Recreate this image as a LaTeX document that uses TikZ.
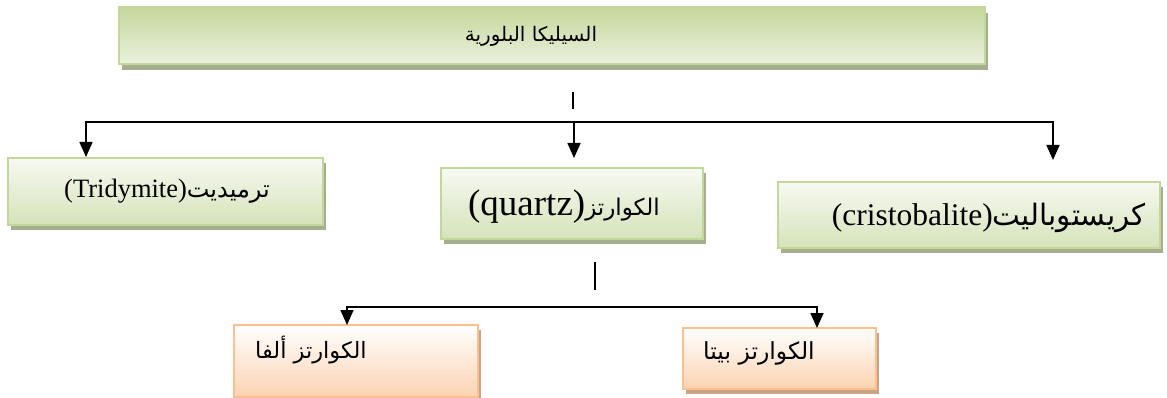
\documentclass[tikz,border=0pt]{standalone}
\usepackage{fontspec}
\setmainfont{Liberation Serif}
\newfontfamily\arabicfont[Script=Arabic]{DejaVu Sans}
\TeXXeTstate=1
\usetikzlibrary{arrows.meta,shadows}
\definecolor{greenEdge}{HTML}{C3D69B}
\definecolor{greenDark}{HTML}{C4D79B}
\definecolor{greenLight}{HTML}{EBF1DE}
\definecolor{greenLow}{HTML}{D5E3BA}
\definecolor{greenShadow}{HTML}{A5AE8D}
\definecolor{orangeEdge}{HTML}{FAC090}
\definecolor{orangeLow}{HTML}{FCD3B2}
\definecolor{orangeShadow}{HTML}{C9A386}
\newcommand{\ar}[1]{{\arabicfont\beginR #1\endR}}
\newcommand{\fs}[1]{\fontsize{#1}{#1}\selectfont}
\tikzset{
  box/.style={draw, line width=1.4pt, inner sep=0pt, outer sep=0pt},
  greenbox/.style={box, draw=greenEdge, top color=white!60!greenLight, bottom color=greenLow,
    general shadow={shadow xshift=3pt, shadow yshift=-5pt, fill=greenShadow}},
  titlebox/.style={box, draw=greenEdge, top color=greenDark, bottom color=greenLight,
    general shadow={shadow xshift=3pt, shadow yshift=-6pt, fill=greenShadow}},
  orangebox/.style={box, draw=orangeEdge, top color=white, bottom color=orangeLow,
    general shadow={shadow xshift=3pt, shadow yshift=-5pt, fill=orangeShadow}},
  label/.style={inner sep=0pt, text=black},
  wire/.style={line width=1.6pt, black},
  arrowwire/.style={wire, -{Triangle[width=13pt,length=15pt]}},
  twoarrows/.style={wire, {Triangle[width=13pt,length=15pt]}-{Triangle[width=13pt,length=15pt]}},
}
\begin{document}
\begin{tikzpicture}[x=1pt, y=-1pt]
\useasboundingbox (0,0) rectangle (1167,398);

% boxes
\node[titlebox, minimum width=866pt, minimum height=57pt] (silica) at (552,35.5) {};
\node[greenbox, minimum width=315pt, minimum height=67pt] (trid) at (165.5,191.5) {};
\node[greenbox, minimum width=262pt, minimum height=71pt] (quartz) at (572,203.5) {};
\node[greenbox, minimum width=382pt, minimum height=66pt] (crist) at (969,215) {};
\node[orangebox, minimum width=244pt, minimum height=72pt] (alpha) at (356,361) {};
\node[orangebox, minimum width=193pt, minimum height=61pt] (beta) at (779.5,358.5) {};

% labels
\node[label] (silicaT) at (531,36) {\fs{20}\ar{السيليكا البلورية}};
\node[label] (tridT) at (167,191) {\fs{26.5}(Tridymite)\fs{24}\ar{ترميديت}};
\node[label] (quartzT) at (564,207) {\fs{37}(quartz)\fs{23}\ar{الكوارتز}};
\node[label, anchor=east] (cristT) at (1146,218) {\fs{31.5}(cristobalite)\fs{29.5}\ar{كريستوباليت}};
\node[label, anchor=west] (alphaT) at (255,350) {\fs{22.5}\ar{الكوارتز ألفا}};
\node[label, anchor=west] (betaT) at (703,353) {\fs{23.5}\ar{الكوارتز بيتا}};

% first branching
\coordinate (barA) at (573,92);
\coordinate (barB) at (573,109);
\coordinate (jL) at (86,122);
\coordinate (jM) at (574,122);
\coordinate (jR) at (1053,122);
\coordinate (tipT) at (86,157);
\coordinate (tipQ) at (574,158);
\coordinate (tipC) at (1053,160);
\draw[wire] (barA) -- (barB);
\draw[twoarrows] (tipT) -- (jL) -- (jR) -- (tipC);
\draw[arrowwire] (jM) -- (tipQ);

% second branching
\coordinate (barC) at (595,262);
\coordinate (barD) at (595,290);
\coordinate (kL) at (347,307);
\coordinate (kR) at (817,307);
\coordinate (tipA) at (347,325);
\coordinate (tipB) at (817,328);
\draw[wire] (barC) -- (barD);
\draw[twoarrows] (tipA) -- (kL) -- (kR) -- (tipB);
\end{tikzpicture}
\end{document}
